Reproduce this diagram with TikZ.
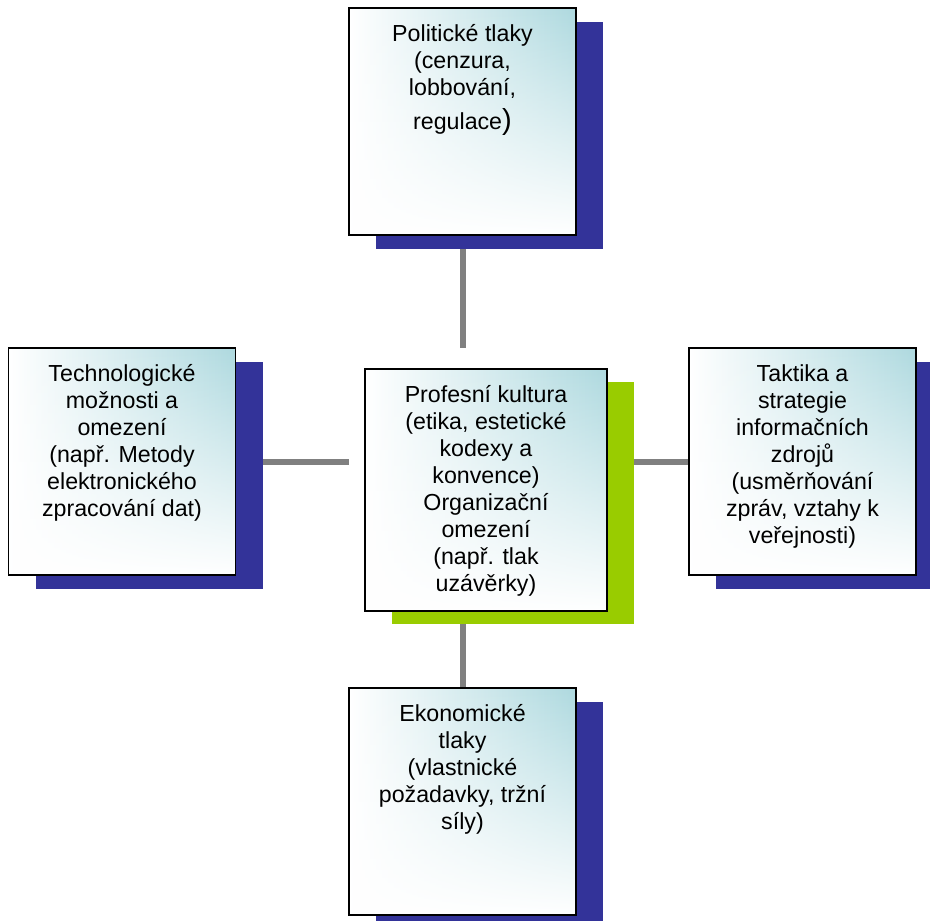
\documentclass[tikz,border=0pt]{standalone}
\usepackage{fontspec}
\setmainfont{Liberation Sans}
\usetikzlibrary{positioning,shadows,backgrounds,fadings}
\definecolor{boxteal}{RGB}{174,217,223}
\definecolor{shadowblue}{RGB}{51,51,153}
\definecolor{shadowgreen}{RGB}{153,204,0}
\definecolor{linkgray}{RGB}{128,128,128}

\begin{document}
\begin{tikzpicture}[x=1pt,y=-1pt,
    basebox/.style={line width=1.6pt, inner sep=0pt,
        minimum width=227pt, minimum height=227pt,
        left color=white, right color=boxteal,
        postaction={fill=white, path fading=north},
        postaction={draw=black}},
    box/.style={basebox,
        drop shadow={shadow xshift=27pt, shadow yshift=-14pt, fill=shadowblue, opacity=1}},
    midbox/.style={basebox, minimum width=242pt, minimum height=242pt,
        drop shadow={shadow xshift=27pt, shadow yshift=-13pt, fill=shadowgreen, opacity=1}},
    txt/.style={anchor=north, align=center, inner sep=0pt,
        font=\fontsize{23.2}{27}\selectfont},
    link/.style={draw=linkgray, line width=6pt}]
    \useasboundingbox (0,0) rectangle (930,921);

    % the five boxes
    \node[box] (top) at (462.5,121.5) {};
    \node[box] (left) at (122,461.5) {};
    \node[box] (right) at (802.5,461.5) {};
    \node[box] (bottom) at (462.5,801.5) {};
    \node[midbox] (mid) at (486,490) {};

    % texts
    \node[txt] (toptxt) at ([yshift=-17.5pt]top.north)
        {Politické tlaky\\(cenzura,\\lobbování,\\[7pt]regulace{\fontsize{29}{34}\selectfont )}};
    \node[txt] (lefttxt) at ([yshift=-17.5pt]left.north)
        {Technologické\\možnosti a\\omezení\\(např. Metody\\elektronického\\zpracování dat)};
    \node[txt] (righttxt) at ([yshift=-17.5pt]right.north)
        {Taktika a\\strategie\\informačních\\zdrojů\\(usměrňování\\zpráv, vztahy k\\veřejnosti)};
    \node[txt] (bottomtxt) at ([yshift=-17.5pt]bottom.north)
        {Ekonomické\\tlaky\\(vlastnické\\požadavky, tržní\\síly)};
    \node[txt] (midtxt) at ([yshift=-17.5pt]mid.north)
        {Profesní kultura\\(etika, estetické\\kodexy a\\konvence)\\Organizační\\omezení\\(např. tlak\\uzávěrky)};

    % connectors
    \begin{scope}[on background layer]
        \draw[link, shorten >=20pt] (top.south) -- (top.south |- mid.north);
        \draw[link, shorten >=15.5pt] (left.east) -- (left.east -| mid.west);
        \draw[link] (mid.east |- right.west) -- (right.west);
        \draw[link] (mid.south -| bottom.north) -- (bottom.north);
    \end{scope}
\end{tikzpicture}
\end{document}
